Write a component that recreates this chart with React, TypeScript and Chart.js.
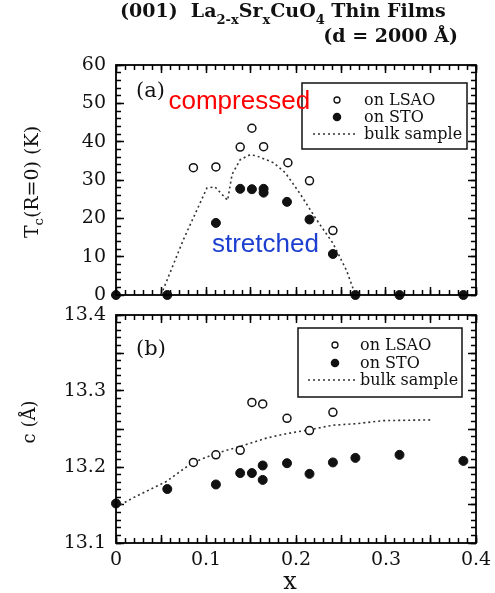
import React, { useEffect, useRef } from "react";
import { Chart, registerables } from "chart.js";

Chart.register(...registerables);

const SERIF = '"DejaVu Serif", "Liberation Serif", serif';
const SANS = '"Liberation Sans", Arial, sans-serif';

// ---------- Panel (a): Tc(R=0) vs x ----------
const xLsaoA = [0.086, 0.111, 0.138, 0.151, 0.164, 0.191, 0.215, 0.241];
const tcLsao = [33.2, 33.4, 38.6, 43.5, 38.7, 34.5, 29.8, 16.8];

const xStoA = [0, 0.057, 0.111, 0.138, 0.151, 0.164, 0.164, 0.19, 0.215, 0.241, 0.266, 0.315, 0.386];
const tcSto = [0, 0, 18.8, 27.7, 27.6, 27.7, 26.7, 24.3, 19.7, 10.7, 0, 0, 0];

const xBulkA = [0.05, 0.075, 0.101, 0.11, 0.124, 0.129, 0.138, 0.149, 0.156, 0.175, 0.188, 0.204, 0.223, 0.241, 0.256, 0.266];
const tcBulk = [0, 14.5, 27.9, 28.2, 24.7, 31.5, 35.3, 36.6, 36.3, 34.5, 31.9, 26.6, 19.6, 13.5, 6.5, 0];

// ---------- Panel (b): c-axis vs x ----------
const xLsaoB = [0.086, 0.111, 0.138, 0.151, 0.163, 0.19, 0.215, 0.241];
const cLsao = [13.206, 13.216, 13.222, 13.285, 13.283, 13.264, 13.248, 13.272];

const xStoB = [0, 0.057, 0.111, 0.138, 0.151, 0.163, 0.163, 0.19, 0.215, 0.241, 0.266, 0.315, 0.386];
const cSto = [13.152, 13.171, 13.177, 13.192, 13.192, 13.202, 13.183, 13.205, 13.191, 13.206, 13.212, 13.216, 13.208];

const xBulkB = [0, 0.02, 0.056, 0.084, 0.111, 0.138, 0.167, 0.19, 0.215, 0.241, 0.267, 0.297, 0.351];
const cBulk = [13.147, 13.16, 13.181, 13.205, 13.218, 13.227, 13.238, 13.244, 13.249, 13.255, 13.257, 13.261, 13.262];

// ---------- Labels / axes ----------
const seriesLabels = ["on LSAO", "on STO", "bulk sample"];
const xAxisRange = [0, 0.4];
const tcAxisRange = [0, 60];
const cAxisRange = [13.1, 13.4];
const xSteps = { major: 0.05, minor: 0.01 };
const tcSteps = { major: 10, minor: 2 };
const cSteps = { major: 0.05, minor: 0.01 };

const pts = (xs: number[], ys: number[]) => xs.map((x, i) => ({ x, y: ys[i] }));

type Seg = { t: string; sub?: boolean };

function drawSegs(ctx: CanvasRenderingContext2D, segs: Seg[], font: string, subFont: string, subDy: number) {
  let x = 0;
  for (const s of segs) {
    ctx.font = s.sub ? subFont : font;
    ctx.fillText(s.t, x, s.sub ? subDy : 0);
    x += ctx.measureText(s.t).width;
  }
  return x;
}
function measureSegs(ctx: CanvasRenderingContext2D, segs: Seg[], font: string, subFont: string) {
  let w = 0;
  for (const s of segs) {
    ctx.font = s.sub ? subFont : font;
    w += ctx.measureText(s.t).width;
  }
  return w;
}

function makeDecor(cfg: any) {
  return {
    id: "decor",
    afterDraw(chart: any) {
      const ctx: CanvasRenderingContext2D = chart.ctx;
      const { left, top, right, bottom } = chart.chartArea;
      const xs = chart.scales.x;
      const ys = chart.scales.y;
      ctx.save();
      ctx.fillStyle = "#111";
      ctx.textBaseline = "alphabetic";

      if (cfg.panel) {
        ctx.font = `21px ${SERIF}`;
        ctx.textAlign = "left";
        ctx.fillText(cfg.panel.text, left + cfg.panel.x, top + cfg.panel.y);
      }

      if (cfg.legend) {
        const Lg = cfg.legend;
        ctx.fillStyle = "#fff";
        ctx.fillRect(left + Lg.x, top + Lg.y, Lg.w, Lg.h);
        ctx.strokeStyle = "#111";
        ctx.lineWidth = 1.5;
        ctx.strokeRect(left + Lg.x, top + Lg.y, Lg.w, Lg.h);
        ctx.font = `16px ${SERIF}`;
        ctx.textBaseline = "middle";
        ctx.textAlign = "left";
        chart.data.datasets.forEach((ds: any, i: number) => {
          const yy = top + Lg.rows[i];
          if (ds.showLine) {
            ctx.save();
            ctx.strokeStyle = ds.borderColor;
            ctx.lineWidth = ds.borderWidth;
            ctx.setLineDash(ds.borderDash || []);
            ctx.beginPath();
            ctx.moveTo(left + Lg.line0, yy);
            ctx.lineTo(left + Lg.line1, yy);
            ctx.stroke();
            ctx.restore();
          } else {
            ctx.beginPath();
            ctx.arc(left + Lg.symX, yy, ds.pointBackgroundColor === "#fff" ? 3 : 3.6, 0, Math.PI * 2);
            ctx.fillStyle = ds.pointBackgroundColor;
            ctx.fill();
            ctx.strokeStyle = ds.pointBorderColor;
            ctx.lineWidth = 1.3;
            ctx.stroke();
          }
          ctx.fillStyle = "#111";
          ctx.fillText(ds.label, left + Lg.textX, yy + 1);
        });
        ctx.textBaseline = "alphabetic";
      }

      if (cfg.notes) {
        ctx.textAlign = "center";
        ctx.textBaseline = "middle";
        for (const n of cfg.notes) {
          ctx.font = `26px ${SANS}`;
          ctx.fillStyle = n.color;
          ctx.fillText(n.text, xs.getPixelForValue(n.x), ys.getPixelForValue(n.y));
        }
        ctx.textBaseline = "alphabetic";
      }

      if (cfg.yTitle) {
        const Tt = cfg.yTitle;
        ctx.fillStyle = "#111";
        ctx.textAlign = "left";
        ctx.textBaseline = "middle";
        const font = `${Tt.size}px ${SERIF}`;
        const subFont = `${Math.round(Tt.size * 0.7)}px ${SERIF}`;
        const w = measureSegs(ctx, Tt.segs, font, subFont);
        ctx.save();
        ctx.translate(Tt.cx, Tt.cy);
        ctx.rotate(-Math.PI / 2);
        ctx.translate(-w / 2, 0);
        drawSegs(ctx, Tt.segs, font, subFont, Tt.size * 0.35);
        ctx.restore();
        ctx.textBaseline = "alphabetic";
      }

      if (cfg.xTitle) {
        ctx.fillStyle = "#111";
        ctx.textAlign = "center";
        ctx.font = `${cfg.xTitle.size}px ${SERIF}`;
        ctx.fillText(cfg.xTitle.text, cfg.xTitle.cx, cfg.xTitle.by);
      }

      if (cfg.title) {
        ctx.fillStyle = "#111";
        ctx.textAlign = "left";
        const font = `bold 19px ${SERIF}`;
        const subFont = `bold 13px ${SERIF}`;
        ctx.save();
        ctx.translate(cfg.title.x1, cfg.title.y1);
        drawSegs(ctx, cfg.title.line1, font, subFont, 7);
        ctx.restore();
        ctx.font = font;
        ctx.textAlign = "right";
        ctx.fillText(cfg.title.line2, cfg.title.x2, cfg.title.y2);
      }

      // plot frame
      ctx.setLineDash([]);
      ctx.strokeStyle = "#000";
      ctx.lineWidth = 1.8;
      ctx.strokeRect(left, top, right - left, bottom - top);
      ctx.restore();
    },
  };
}

const lsaoStyle = {
  pointRadius: 4,
  pointBackgroundColor: "#fff",
  pointBorderColor: "#111",
  pointBorderWidth: 1.5,
  showLine: false,
  clip: false as any,
};
const stoStyle = {
  pointRadius: 4.5,
  pointBackgroundColor: "#111",
  pointBorderColor: "#111",
  pointBorderWidth: 1,
  showLine: false,
  clip: false as any,
};
const bulkStyle = {
  showLine: true,
  pointRadius: 0,
  borderColor: "#333",
  borderWidth: 1.6,
  borderDash: [2, 3],
  fill: false,
  tension: 0,
  clip: false as any,
};

const tickFont = { family: SERIF, size: 19 };
const MAJOR_LEN = 8;
const MINOR_LEN = 5;

// inward tick marks drawn by Chart.js itself (negative tick length, no grid lines)
const tickGrid = (len: number) => ({
  display: true,
  drawOnChartArea: false,
  drawTicks: true,
  tickLength: -len,
  tickColor: "#000",
  tickWidth: 1.5,
  color: "#000",
});

const zeroPad = (s: any) => {
  s.paddingLeft = 0;
  s.paddingRight = 0;
  s.paddingTop = 0;
  s.paddingBottom = 0;
};

function tickOnlyScale(axis: "x" | "y", position: string, range: number[], step: number, len: number) {
  return {
    type: "linear",
    axis,
    position,
    min: range[0],
    max: range[1],
    weight: 0,
    ticks: { display: false, stepSize: step, maxTicksLimit: 1000, autoSkip: false },
    grid: tickGrid(len),
    border: { display: false },
    afterFit: (s: any) => {
      if (axis === "x") s.height = 0;
      else s.width = 0;
      zeroPad(s);
    },
  };
}

const isTenth = (v: number) => Math.abs(v * 10 - Math.round(v * 10)) < 1e-6;

function frameScales(xRange: number[], yRange: number[], yStep: { major: number; minor: number }) {
  return {
    xMinor: tickOnlyScale("x", "bottom", xRange, xSteps.minor, MINOR_LEN),
    xTop: tickOnlyScale("x", "top", xRange, xSteps.major, MAJOR_LEN),
    xTopMinor: tickOnlyScale("x", "top", xRange, xSteps.minor, MINOR_LEN),
    yMinor: tickOnlyScale("y", "left", yRange, yStep.minor, MINOR_LEN),
    yRight: tickOnlyScale("y", "right", yRange, yStep.major, MAJOR_LEN),
    yRightMinor: tickOnlyScale("y", "right", yRange, yStep.minor, MINOR_LEN),
  };
}

function makeConfigA(): any {
  const decor = makeDecor({
    panel: { text: "(a)", x: 20, y: 32 },
    legend: { x: 186, y: 18, w: 165, h: 66, rows: [35, 52, 69], symX: 221, line0: 197, line1: 242, textX: 248 },
    notes: [
      { text: "compressed", x: 0.137, y: 50.5, color: "#ff0000" },
      { text: "stretched", x: 0.166, y: 13.1, color: "#1c3fcf" },
    ],
    yTitle: { segs: [{ t: "T" }, { t: "c", sub: true }, { t: "(R=0) (K)" }], cx: 33, cy: 182, size: 19 },
    title: {
      line1: [
        { t: "(001)  La" },
        { t: "2-x", sub: true },
        { t: "Sr" },
        { t: "x", sub: true },
        { t: "CuO" },
        { t: "4", sub: true },
        { t: " Thin Films" },
      ],
      x1: 120,
      y1: 17,
      line2: "(d = 2000 Å)",
      x2: 458,
      y2: 42,
    },
  });
  return {
    type: "scatter",
    data: {
      datasets: [
        { label: seriesLabels[0], data: pts(xLsaoA, tcLsao), ...lsaoStyle },
        { label: seriesLabels[1], data: pts(xStoA, tcSto), ...stoStyle },
        { label: seriesLabels[2], data: pts(xBulkA, tcBulk), ...bulkStyle },
      ],
    },
    options: {
      responsive: false,
      animation: false,
      devicePixelRatio: 1,
      layout: { padding: { left: 0, top: 65, right: 19, bottom: 17 } },
      plugins: { legend: { display: false }, tooltip: { enabled: false } },
      scales: {
        x: {
          type: "linear",
          position: "bottom",
          weight: 1,
          min: xAxisRange[0],
          max: xAxisRange[1],
          ticks: { display: false, stepSize: xSteps.major, maxTicksLimit: 1000, autoSkip: false },
          grid: tickGrid(MAJOR_LEN),
          border: { display: false },
          afterFit: (s: any) => {
            s.height = 0;
            zeroPad(s);
          },
        },
        y: {
          type: "linear",
          position: "left",
          weight: 1,
          min: tcAxisRange[0],
          max: tcAxisRange[1],
          ticks: {
            stepSize: tcSteps.major,
            maxTicksLimit: 1000,
            autoSkip: false,
            padding: 10 + MAJOR_LEN,
            color: "#111",
            font: tickFont,
          },
          grid: tickGrid(MAJOR_LEN),
          border: { display: false },
          afterFit: (s: any) => {
            s.width = 116;
            zeroPad(s);
          },
        },
        ...frameScales(xAxisRange, tcAxisRange, tcSteps),
      },
    },
    plugins: [decor],
  };
}

function makeConfigB(): any {
  const decor = makeDecor({
    panel: { text: "(b)", x: 20, y: 40 },
    legend: { x: 182, y: 13, w: 164, h: 69, rows: [30, 48, 65], symX: 219, line0: 192, line1: 239, textX: 244 },
    yTitle: { segs: [{ t: "c (Å)" }], cx: 30, cy: 122, size: 18 },
    xTitle: { text: "x", cx: 290, by: 289, size: 24 },
  });
  return {
    type: "scatter",
    data: {
      datasets: [
        { label: seriesLabels[0], data: pts(xLsaoB, cLsao), ...lsaoStyle },
        { label: seriesLabels[1], data: pts(xStoB, cSto), ...stoStyle },
        { label: seriesLabels[2], data: pts(xBulkB, cBulk), ...bulkStyle },
      ],
    },
    options: {
      responsive: false,
      animation: false,
      devicePixelRatio: 1,
      layout: { padding: { left: 0, top: 15, right: 19, bottom: 0 } },
      plugins: { legend: { display: false }, tooltip: { enabled: false } },
      scales: {
        x: {
          type: "linear",
          position: "bottom",
          weight: 1,
          min: xAxisRange[0],
          max: xAxisRange[1],
          ticks: {
            stepSize: xSteps.major,
            maxTicksLimit: 1000,
            autoSkip: false,
            padding: 6 + MAJOR_LEN,
            color: "#111",
            font: tickFont,
            maxRotation: 0,
            minRotation: 0,
            callback: (v: number) => (!isTenth(v) ? "" : Math.abs(v) < 1e-9 ? "0" : Number(v).toFixed(1)),
          },
          grid: tickGrid(MAJOR_LEN),
          border: { display: false },
          afterFit: (s: any) => {
            s.height = 50;
            zeroPad(s);
          },
        },
        y: {
          type: "linear",
          position: "left",
          weight: 1,
          min: cAxisRange[0],
          max: cAxisRange[1],
          ticks: {
            stepSize: cSteps.major,
            maxTicksLimit: 1000,
            autoSkip: false,
            padding: 10 + MAJOR_LEN,
            color: "#111",
            font: tickFont,
            callback: (v: number) => (isTenth(v) ? Number(v).toFixed(1) : ""),
          },
          grid: tickGrid(MAJOR_LEN),
          border: { display: false },
          afterFit: (s: any) => {
            s.width = 116;
            zeroPad(s);
          },
        },
        ...frameScales(xAxisRange, cAxisRange, cSteps),
      },
    },
    plugins: [decor],
  };
}

export default function App() {
  const refA = useRef<HTMLCanvasElement>(null);
  const refB = useRef<HTMLCanvasElement>(null);
  useEffect(() => {
    const a = new Chart(refA.current as HTMLCanvasElement, makeConfigA());
    const b = new Chart(refB.current as HTMLCanvasElement, makeConfigB());
    return () => {
      a.destroy();
      b.destroy();
    };
  }, []);
  return (
    <div style={{ position: "fixed", left: 0, top: 0, width: 495, height: 593, background: "#fff" }}>
      <canvas
        ref={refA}
        width={495}
        height={312}
        style={{ position: "absolute", left: 0, top: 0, width: 495, height: 312 }}
      />
      <canvas
        ref={refB}
        width={495}
        height={293}
        style={{ position: "absolute", left: 0, top: 300, width: 495, height: 293 }}
      />
    </div>
  );
}
